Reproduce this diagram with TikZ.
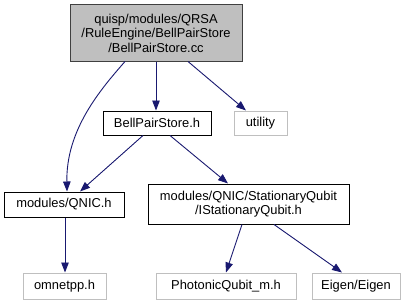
\documentclass[tikz,border=0pt]{standalone}
\usepackage{fontspec}
\setmainfont{Liberation Sans}
\usetikzlibrary{arrows.meta}
\definecolor{edgeblue}{HTML}{191970}
\definecolor{mainfill}{HTML}{BFBFBF}
\definecolor{mainborder}{HTML}{404040}
\definecolor{extborder}{HTML}{BFBFBF}
\tikzset{
  filebox/.style={draw=black, line width=1pt, fill=white, align=center, inner sep=0pt,
    font=\fontsize{12.9}{14.5}\selectfont},
  mainbox/.style={filebox, draw=mainborder, fill=mainfill},
  extbox/.style={filebox, draw=extborder},
  dep/.style={draw=edgeblue, line width=0.9pt, -{Triangle[length=10pt,width=7.5pt]}}
}
\begin{document}
\begin{tikzpicture}[x=1pt,y=-1pt]
\useasboundingbox (0,0) rectangle (409,305);
\fill[white] (0,0) rectangle (409,305);

\node[mainbox, minimum width=172pt, minimum height=56pt] (cc) at (156,33)
  {quisp/modules/QRSA\\/RuleEngine/BellPairStore\\/BellPairStore.cc};
\node[filebox, minimum width=108pt, minimum height=24pt] (bps) at (157,123) {BellPairStore.h};
\node[extbox, minimum width=53pt, minimum height=24pt] (util) at (260.5,123) {utility};
\node[filebox, minimum width=120pt, minimum height=25pt] (qnic) at (64,204.5) {modules/QNIC.h};
\node[filebox, minimum width=201pt, minimum height=40pt] (isq) at (248.5,204)
  {modules/QNIC/StationaryQubit\\/IStationaryQubit.h};
\node[extbox, minimum width=83pt, minimum height=26pt] (omn) at (64.5,286) {omnetpp.h};
\node[extbox, minimum width=140pt, minimum height=26pt] (pq) at (226,286) {PhotonicQubit\_m.h};
\node[extbox, minimum width=88pt, minimum height=26pt] (eig) at (356,286) {Eigen/Eigen};

\draw[dep] (cc.south -| 125,0) .. controls (100,90) and (66,130) .. (qnic.north -| 67,0);
\draw[dep] (cc.south -| 156,0) -- (bps.north -| 156,0);
\draw[dep] (cc.south -| 188,0) -- (util.north -| 246,0);
\draw[dep] (bps.south -| 143,0) -- (qnic.north -| 80,0);
\draw[dep] (bps.south -| 170,0) -- (isq.north -| 228,0);
\draw[dep] (qnic.south -| 65,0) -- (omn.north -| 65,0);
\draw[dep] (isq.south -| 242,0) -- (pq.north -| 226,0);
\draw[dep] (isq.south -| 274,0) -- (eig.north -| 342,0);
\end{tikzpicture}
\end{document}
